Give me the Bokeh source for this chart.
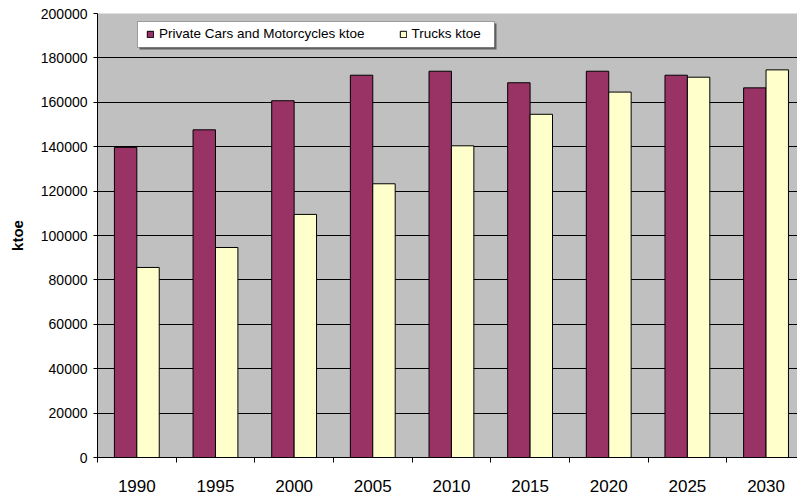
from bokeh.plotting import figure
from bokeh.models import ColumnDataSource, FixedTicker, Range1d, Legend, LegendItem, BoxAnnotation
from bokeh.embed import file_html
from bokeh.resources import INLINE

# Transport energy consumption (ktoe) by year
years = ["1990", "1995", "2000", "2005", "2010", "2015", "2020", "2025", "2030"]
cars_ktoe = [139700, 147600, 160700, 172200, 174000, 168800, 174000, 172200, 166500]
trucks_ktoe = [85600, 94600, 109500, 123300, 140400, 154600, 164600, 171300, 174600]
y_ticks = [0, 20000, 40000, 60000, 80000, 100000, 120000, 140000, 160000, 180000, 200000]

FONT = "Liberation Sans"
CAR_COLOR = "#993366"
TRUCK_COLOR = "#FFFFCC"
BAR_W = 0.285

centers = [i + 0.5 for i in range(len(years))]
boundaries = list(range(len(years) + 1))

src = ColumnDataSource(dict(
    xc=[c - BAR_W / 2 for c in centers],
    xt=[c + BAR_W / 2 for c in centers],
    cars=cars_ktoe,
    trucks=trucks_ktoe,
))

p = figure(width=797, height=497, output_backend="svg", toolbar_location=None,
           x_range=Range1d(0, 8.9), y_range=Range1d(0, 200000),
           min_border_left=97, min_border_right=0, min_border_top=13, min_border_bottom=40)

p.background_fill_color = "#C0C0C0"
p.border_fill_color = "white"
p.outline_line_color = None

r_cars = p.vbar(x="xc", top="cars", width=BAR_W, source=src,
                fill_color=CAR_COLOR, line_color="black", line_width=1)
r_trucks = p.vbar(x="xt", top="trucks", width=BAR_W, source=src,
                  fill_color=TRUCK_COLOR, line_color="black", line_width=1)

# x axis: labels at category centers, tick marks at category boundaries
p.xaxis.ticker = FixedTicker(ticks=centers, minor_ticks=boundaries)
p.xaxis.major_label_overrides = {c: y for c, y in zip(centers, years)}
p.xaxis.major_tick_out = 0
p.xaxis.major_tick_in = 0
p.xaxis.minor_tick_out = 5
p.xaxis.minor_tick_in = 0
p.xaxis.minor_tick_line_color = "black"
p.xaxis.major_label_text_font = FONT
p.xaxis.major_label_text_font_size = "17px"
p.xaxis.major_label_text_color = "black"
p.xaxis.major_label_standoff = 17
p.xaxis.axis_line_color = "black"

# y axis with plain integer labels
p.yaxis.ticker = FixedTicker(ticks=y_ticks)
p.yaxis.major_label_overrides = {t: str(t) for t in y_ticks}
p.yaxis.major_tick_out = 4
p.yaxis.major_tick_in = 0
p.yaxis.minor_tick_line_color = None
p.yaxis.major_label_text_font = FONT
p.yaxis.major_label_text_font_size = "14px"
p.yaxis.major_label_text_color = "black"
p.yaxis.major_label_standoff = 6
p.yaxis.axis_line_color = "black"
p.yaxis.axis_label = "ktoe"
p.yaxis.axis_label_text_font = FONT
p.yaxis.axis_label_text_font_style = "bold"
p.yaxis.axis_label_text_font_size = "15px"
p.yaxis.axis_label_text_color = "black"
p.yaxis.axis_label_standoff = 12

p.xgrid.grid_line_color = None
p.ygrid.grid_line_color = "black"
p.ygrid.grid_line_width = 1

# white legend panel with a soft drop shadow
shadow = BoxAnnotation(left=139, right=496, top=23, bottom=49,
                       left_units="canvas", right_units="canvas",
                       top_units="canvas", bottom_units="canvas",
                       fill_color="#606060", fill_alpha=1, line_color=None)
panel = BoxAnnotation(left=137, right=494, top=21, bottom=47,
                      left_units="canvas", right_units="canvas",
                      top_units="canvas", bottom_units="canvas",
                      fill_color="white", fill_alpha=1,
                      line_color="black", line_width=1)
p.add_layout(shadow)
p.add_layout(panel)

legend = Legend(items=[
    LegendItem(label="Private Cars and Motorcycles ktoe", renderers=[r_cars]),
    LegendItem(label="Trucks ktoe", renderers=[r_trucks]),
], orientation="horizontal", location=(49, 416))
legend.label_text_font = FONT
legend.label_text_font_size = "13.5px"
legend.label_text_color = "black"
legend.glyph_width = 8
legend.glyph_height = 8
legend.label_standoff = 5
legend.spacing = 34
legend.padding = 5
legend.margin = 0
legend.label_height = 12
legend.border_line_color = None
legend.background_fill_alpha = 0
p.add_layout(legend, "center")

open("out.html", "w").write(file_html(p, INLINE))
